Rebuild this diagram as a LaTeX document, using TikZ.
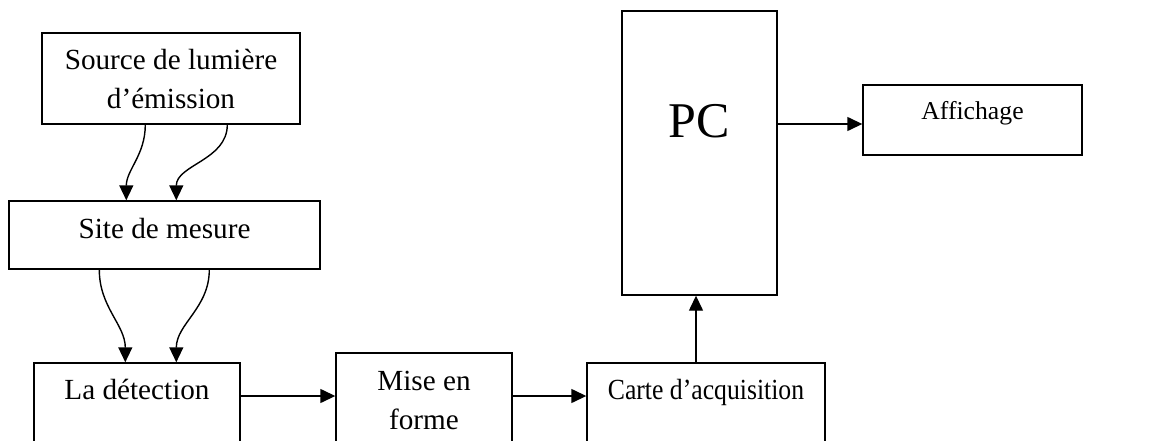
\documentclass[tikz,border=0pt]{standalone}
\usepackage{fontspec}
\setmainfont{Liberation Serif}
\usetikzlibrary{arrows.meta}

\begin{document}
\begin{tikzpicture}[x=1pt,y=-1pt,
	box/.style={draw, line width=1.4pt, rectangle, inner sep=0pt, font=\fontsize{29.2}{39}\selectfont},
	smalltext/.style={font=\fontsize{25.7}{31}\selectfont, text height=17.5pt},
	narrowtext/.style={font=\fontsize{29.2}{39}\selectfont\addfontfeatures{FakeStretch=0.88}, text height=20pt},
	arr/.style={line width=1.4pt, -{Triangle[length=15pt,width=14pt]}}]
	\useasboundingbox (0,0) rectangle (1153,441);
	\clip (0,0) rectangle (1153,441);
	\node[box, minimum width=258pt, minimum height=91pt, align=center] (source) at (171,78.5) {Source de lumière\\d’émission};
	\node[box, minimum width=311pt, minimum height=68pt, text height=20pt, text depth=14pt] (site) at (164.5,235) {Site de mesure};
	\node[box, minimum width=206pt, minimum height=120pt, text height=20pt, text depth=68pt] (detect) at (137,423) {La détection};
	\node[box, minimum width=176pt, minimum height=130pt, align=center, text depth=36pt] (forme) at (424,418) {Mise en\\forme};
	\node[box, narrowtext, minimum width=238pt, minimum height=120pt, text depth=68pt] (carte) at (706,423) {Carte d’acquisition};
	\node[box, minimum width=155pt, minimum height=284pt, font=\fontsize{50}{60}\selectfont, text height=34pt, text depth=66pt] (pc) at (699.5,153) {PC};
	\node[box, smalltext, minimum width=219pt, minimum height=70pt, text depth=17.5pt] (affichage) at (972.5,120) {Affichage};
	\draw[arr] ([xshift=104pt]source.south west) to[out=-90,in=90] ([xshift=118pt]site.north west);
	\draw[arr] ([xshift=186pt]source.south west) to[out=-90,in=90] ([xshift=168pt]site.north west);
	\draw[arr] ([xshift=91pt]site.south west) to[out=-90,in=90] ([xshift=92pt]detect.north west);
	\draw[arr] ([xshift=201pt]site.south west) to[out=-90,in=90] ([xshift=143pt]detect.north west);
	\draw[arr] ([yshift=27pt]detect.east) -- ([yshift=22pt]forme.west);
	\draw[arr] ([yshift=22pt]forme.east) -- ([yshift=27pt]carte.west);
	\draw[arr] ([xshift=-10pt]carte.north) -- ([xshift=-10pt]carte.north |- pc.south);
	\draw[arr] ([yshift=29pt]pc.east) -- ([yshift=-4pt]affichage.west);
\end{tikzpicture}
\end{document}
